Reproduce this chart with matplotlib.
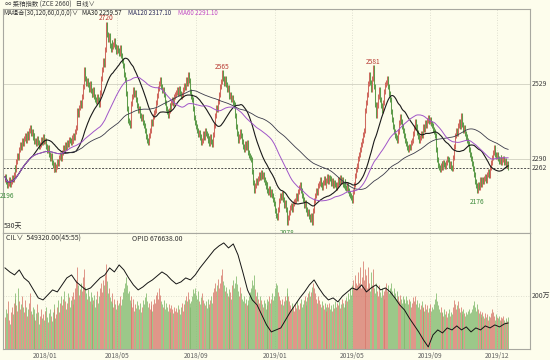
import numpy as np
import pandas as pd
import matplotlib
matplotlib.use("Agg")
import matplotlib.pyplot as plt
import matplotlib.transforms as mtransforms

plt.rcParams['font.family'] = ['Noto Sans CJK SC', 'DejaVu Sans']

# ---------------- data ----------------
closes = [
2233,2218,2204,2212,2225,2210,2219,2230,2223,2241,
2262,2255,2281,2300,2294,2319,2335,2326,2348,2340,
2355,2366,2349,2372,2360,2381,2389,2370,2376,2358,
2365,2347,2350,2338,2356,2344,2329,2335,2352,2341,
2360,2346,2350,2331,2318,2326,2305,2293,2301,2280,
2268,2258,2272,2255,2266,2281,2275,2294,2303,2290,
2312,2325,2318,2335,2328,2344,2336,2352,2350,2341,
2358,2349,2366,2360,2376,2389,2446,2432,2455,2470,
2462,2488,2521,2574,2548,2530,2541,2526,2512,2530,
2508,2497,2494,2510,2488,2479,2472,2490,2478,2463,
2501,2548,2576,2605,2590,2640,2717,2688,2670,2682,
2653,2640,2662,2648,2655,2669,2650,2632,2645,2637,
2625,2644,2620,2605,2588,2560,2542,2500,2452,2414,
2405,2398,2432,2468,2490,2510,2495,2502,2478,2460,
2445,2452,2430,2418,2425,2405,2398,2380,2362,2350,
2341,2366,2382,2395,2410,2402,2425,2438,2446,2470,
2492,2515,2530,2542,2521,2508,2512,2494,2470,2452,
2441,2430,2445,2460,2452,2470,2478,2466,2489,2495,
2502,2510,2498,2515,2500,2488,2494,2510,2525,2518,
2542,2530,2558,2540,2522,2505,2490,2478,2450,2421,
2405,2392,2382,2368,2375,2360,2342,2350,2372,2360,
2381,2370,2366,2348,2355,2340,2362,2345,2335,2368,
2398,2430,2455,2448,2472,2494,2520,2538,2564,2545,
2532,2548,2526,2510,2518,2502,2490,2494,2478,2485,
2470,2462,2430,2395,2372,2350,2362,2378,2366,2345,
2330,2319,2338,2325,2342,2335,2310,2302,2296,2287,
2250,2215,2191,2205,2222,2215,2229,2240,2232,2248,
2235,2239,2226,2215,2202,2210,2191,2183,2195,2178,
2186,2175,2160,2148,2125,2110,2102,2130,2158,2175,
2168,2180,2162,2143,2150,2128,2110,2089,2102,2120,
2135,2143,2130,2148,2155,2159,2172,2165,2185,2198,
2207,2190,2175,2160,2143,2152,2138,2130,2115,2121,
2108,2098,2110,2089,2125,2158,2175,2190,2182,2205,
2212,2223,2210,2198,2215,2228,2214,2207,2222,2235,
2218,2230,2229,2212,2220,2205,2215,2208,2198,2210,
2225,2215,2230,2218,2223,2210,2205,2218,2200,2195,
2208,2191,2180,2172,2166,2159,2185,2210,2238,2255,
2270,2290,2305,2319,2335,2350,2368,2382,2410,2445,
2470,2494,2530,2558,2535,2510,2545,2583,2520,2465,
2430,2462,2490,2510,2478,2460,2446,2470,2492,2505,
2526,2535,2548,2520,2498,2478,2440,2415,2392,2378,
2365,2358,2350,2378,2405,2424,2410,2395,2380,2372,
2366,2350,2338,2328,2319,2330,2325,2342,2350,2372,
2390,2408,2395,2375,2362,2350,2358,2370,2365,2382,
2392,2385,2405,2398,2412,2421,2408,2415,2402,2398,
2385,2378,2366,2320,2287,2270,2262,2255,2268,2275,
2262,2280,2271,2265,2278,2290,2287,2270,2276,2262,
2261,2295,2330,2366,2380,2372,2398,2410,2395,2430,
2418,2400,2382,2390,2372,2360,2350,2338,2320,2303,
2290,2275,2261,2240,2218,2205,2191,2210,2198,2223,
2215,2208,2225,2218,2229,2235,2222,2240,2249,2238,
2262,2280,2295,2310,2325,2305,2298,2303,2290,2282,
2287,2295,2280,2288,2290,2278,2285,2270,2275,2262,
]

volumes = [  # 万手
120,150,135,180,110,95,140,160,130,175,
190,210,165,145,230,180,150,170,200,160,
140,185,160,125,150,175,210,145,130,160,
120,150,110,135,170,140,95,125,150,115,
130,110,145,160,120,100,135,150,125,105,
140,170,150,115,130,160,185,140,175,200,
165,190,220,180,150,175,210,195,160,185,
200,170,215,190,230,260,310,240,205,225,
250,220,270,300,235,210,190,225,200,180,
215,195,170,185,205,160,190,220,175,200,
230,250,215,260,240,280,320,255,210,230,
195,180,210,175,160,190,170,150,185,165,
175,200,165,190,215,230,250,270,240,210,
220,185,200,175,160,190,145,170,155,180,
165,150,175,140,160,185,170,195,210,180,
160,175,150,165,180,145,170,190,175,205,
215,190,230,205,180,170,160,185,150,175,
160,145,170,155,140,165,150,135,160,145,
155,140,165,150,130,160,175,145,170,185,
200,180,215,190,175,160,180,200,225,210,
230,205,190,220,180,170,195,210,185,175,
165,180,155,190,170,160,185,200,175,215,
230,250,220,240,265,230,250,280,300,255,
240,220,235,210,200,225,195,215,190,240,
260,230,250,275,245,220,200,235,210,190,
180,200,175,190,165,185,170,200,215,230,
260,240,280,225,200,215,190,175,200,185,
170,160,185,175,150,165,190,180,200,175,
190,210,185,200,230,250,240,215,200,185,
170,190,165,180,200,185,210,230,200,180,
165,150,175,160,145,170,155,180,165,150,
175,190,160,170,185,200,180,165,195,210,
220,200,215,235,250,230,210,190,175,200,
185,170,160,180,165,150,175,160,145,170,
160,175,150,165,145,170,155,180,160,175,
165,180,155,170,190,175,160,185,170,195,
180,210,190,230,205,240,260,230,280,250,
240,290,250,310,230,270,330,260,240,300,
280,230,310,250,220,290,240,300,230,210,
250,220,200,240,215,195,230,205,190,220,
230,250,220,240,210,230,250,220,200,230,
210,190,220,200,180,205,190,175,200,185,
190,175,200,185,170,190,180,160,175,195,
180,200,170,185,160,175,150,165,180,155,
160,145,170,150,165,140,155,170,145,160,
150,170,190,210,180,165,150,140,160,135,
140,125,150,130,145,120,135,150,125,140,
130,160,185,170,150,165,180,155,140,160,
145,130,150,135,125,140,130,145,150,135,
140,150,165,180,160,145,170,150,135,145,
130,120,140,125,115,135,120,130,110,125,
120,135,150,140,125,110,130,120,115,125,
110,120,105,115,125,110,100,115,105,120,
]

open_interest = [  # 万手, sampled every 5 trading days, last = latest day
95.2,93.2,91.7,94.2,90.2,88.2,84.2,80.2,79.2,81.7,
84.2,83.2,86.7,90.2,91.7,88.2,86.2,84.2,85.2,87.7,
90.2,91.7,95.2,93.2,96.7,94.2,90.2,86.7,84.2,85.7,
87.7,89.2,91.2,93.2,91.7,89.2,87.2,88.2,90.2,89.2,
91.7,95.2,98.2,101.2,104.2,106.2,107.7,105.2,107.2,101.7,
93.2,84.2,79.2,76.7,71.7,66.7,63.2,64.2,65.2,69.2,
73.2,76.7,80.2,83.2,86.7,89.2,85.2,81.7,79.2,80.2,
78.2,81.2,83.2,85.2,84.2,86.7,83.2,85.2,86.7,84.2,
85.2,83.2,80.2,76.7,74.2,70.2,66.7,63.2,59.2,55.7,
61.7,64.2,62.7,65.2,64.2,66.2,64.2,65.7,63.2,65.2,
64.2,66.2,65.2,66.7,65.7,67.2,67.66,
]
oi_step = 5

month_labels = ['2018/01', '2018/05', '2018/09', '2019/01', '2019/05', '2019/09', '2019/12']
month_days = [42, 118, 201, 284, 365, 447, 517]

ma_periods = [30, 120, 60]
ma_names = ['MA30', 'MA120', 'MA60']
ma_last = ['2259.57', '2317.10', '2291.10']

ann_text = ['2196', '2720', '2565', '2078', '2581', '2176']
ann_day = [2, 106, 228, 297, 387, 496]
ann_price = [2196, 2720, 2565, 2078, 2581, 2176]
ann_up = [False, True, True, False, True, False]

right_levels = [2529, 2290, 2262]

# ---------------- derived ----------------
c = np.array(closes, dtype=float)
n = len(c)
days = np.arange(n)
o = np.r_[c[0] - 8, c[:-1]]
up = c >= o
lo = np.minimum(o, c) - 8
hi = np.maximum(o, c) + 8
s = pd.Series(c)
mas = [s.rolling(p, min_periods=1).mean().values for p in ma_periods]

# ---------------- styling ----------------
bg = '#fdfdec'
red = '#cf6a5f'
green = '#5e9c4c'
vred = '#d7786c'
vgreen = '#7fb86c'
frame = '#a8a8a0'
grid = '#d6d6c6'
W, H = 550, 360

def rect(x0, y0, x1, y1):
    return [x0 / W, 1 - y1 / H, (x1 - x0) / W, (y1 - y0) / H]

fig = plt.figure(figsize=(5.5, 3.6), dpi=100)
fig.patch.set_facecolor(bg)

ax = fig.add_axes(rect(3, 9, 530, 233))
axv = fig.add_axes(rect(3, 233, 530, 349))
for a in (ax, axv):
    a.set_facecolor(bg)
    for sp in a.spines.values():
        sp.set_color(frame)
        sp.set_linewidth(0.8)
    a.tick_params(length=0)
    a.set_xlim(-2.1, 552)

ax.set_xticks([])
ax.set_yticks([])
ax.set_ylim(2054, 2768)

# grids
for d in month_days:
    ax.axvline(d, color=grid, lw=0.6, ls=(0, (1, 2)), zorder=0)
    axv.axvline(d, color=grid, lw=0.6, ls=(0, (1, 2)), zorder=0)
ax.axhline(right_levels[0], color=grid, lw=0.7, zorder=0)
ax.axhline(right_levels[1], color=grid, lw=0.7, zorder=0)
ax.axhline(right_levels[2], color='#505050', lw=0.7, ls=(0, (2, 1.5)), zorder=1)

# candles (single call, day order, so colours interleave)
ccol = np.where(up, red, green)
ax.vlines(days, lo, hi, colors=ccol, lw=0.75, zorder=2)

# moving averages
ma_colors = ['#1a1a1a', '#3a3a4a', '#a055c8']
ma_lw = [0.8, 0.6, 0.7]
for m, col, lw in zip(mas, ma_colors, ma_lw):
    ax.plot(days, m, color=col, lw=lw, zorder=3)

# annotations
for t, d, p, u in zip(ann_text, ann_day, ann_price, ann_up):
    ax.text(d, p + (5 if u else -11), t, fontsize=4.8, ha='center',
            va='bottom' if u else 'top',
            color='#b83a32' if u else '#3c8a3a', zorder=4)

# right axis labels
trans = mtransforms.blended_transform_factory(ax.transAxes, ax.transData)
for lv in right_levels:
    ax.text(1.004, lv, str(lv), transform=trans, fontsize=5, va='center',
            ha='left', color='#404040', clip_on=False)

# legend line
ax.text(0.001, 0.999, 'MA组合(30,120,60,0,0,0)\u2228', transform=ax.transAxes,
        fontsize=4.5, va='top', ha='left', color='#303030')
leg_x = [0.150, 0.238, 0.333]
leg_c = ['#202020', '#2a2a5a', '#c04ac4']
for xx, nm, val, col in zip(leg_x, ma_names, ma_last, leg_c):
    ax.text(xx, 0.999, f'{nm} {val}', transform=ax.transAxes, fontsize=4.5,
            va='top', ha='left', color=col)
ax.text(0.002, 0.012, '530天', transform=ax.transAxes, fontsize=5,
        va='bottom', ha='left', color='#303030')

# title
fig.text(5 / W, 1 - 4.5 / H, '∞ 菜粕指数 (ZCE 2660)   日线\u2228', fontsize=4.6,
         va='center', ha='left', color='#404040')

# ---------------- volume panel ----------------
v = np.array(volumes, dtype=float)
vcol = np.where(up, vred, vgreen)
axv.vlines(days, 0, v, colors=vcol, lw=0.55, zorder=2)
axv.set_ylim(0, 437)
axv.set_yticks([])
axv.axhline(200, color=grid, lw=0.6, ls=(0, (1, 2)), zorder=0)
transv = mtransforms.blended_transform_factory(axv.transAxes, axv.transData)
axv.text(1.004, 200, '200万', transform=transv, fontsize=5, va='center',
         ha='left', color='#404040', clip_on=False)
axv.set_xticks(month_days)
axv.set_xticklabels(month_labels, fontsize=4.8, color='#606060')
axv.tick_params(axis='x', pad=2)

axo = axv.twinx()
axo.set_ylim(54.66, 112.66)
axo.set_yticks([])
for sp in axo.spines.values():
    sp.set_visible(False)
oi = np.array(open_interest)
oi_days = np.r_[np.arange(0, n, oi_step), n - 1][:len(oi)]
axo.plot(oi_days, oi, color='#151515', lw=0.7, zorder=3)
axo.set_xlim(-2.1, 552)

axv.text(0.006, 0.985, 'CIL\u2228  549320.00(45:55)', transform=axv.transAxes,
         fontsize=5, va='top', ha='left', color='#303030')
axv.text(0.245, 0.985, 'OPID 676638.00', transform=axv.transAxes,
         fontsize=5, va='top', ha='left', color='#303030')

fig.savefig('out.png', dpi=100, facecolor=bg)
